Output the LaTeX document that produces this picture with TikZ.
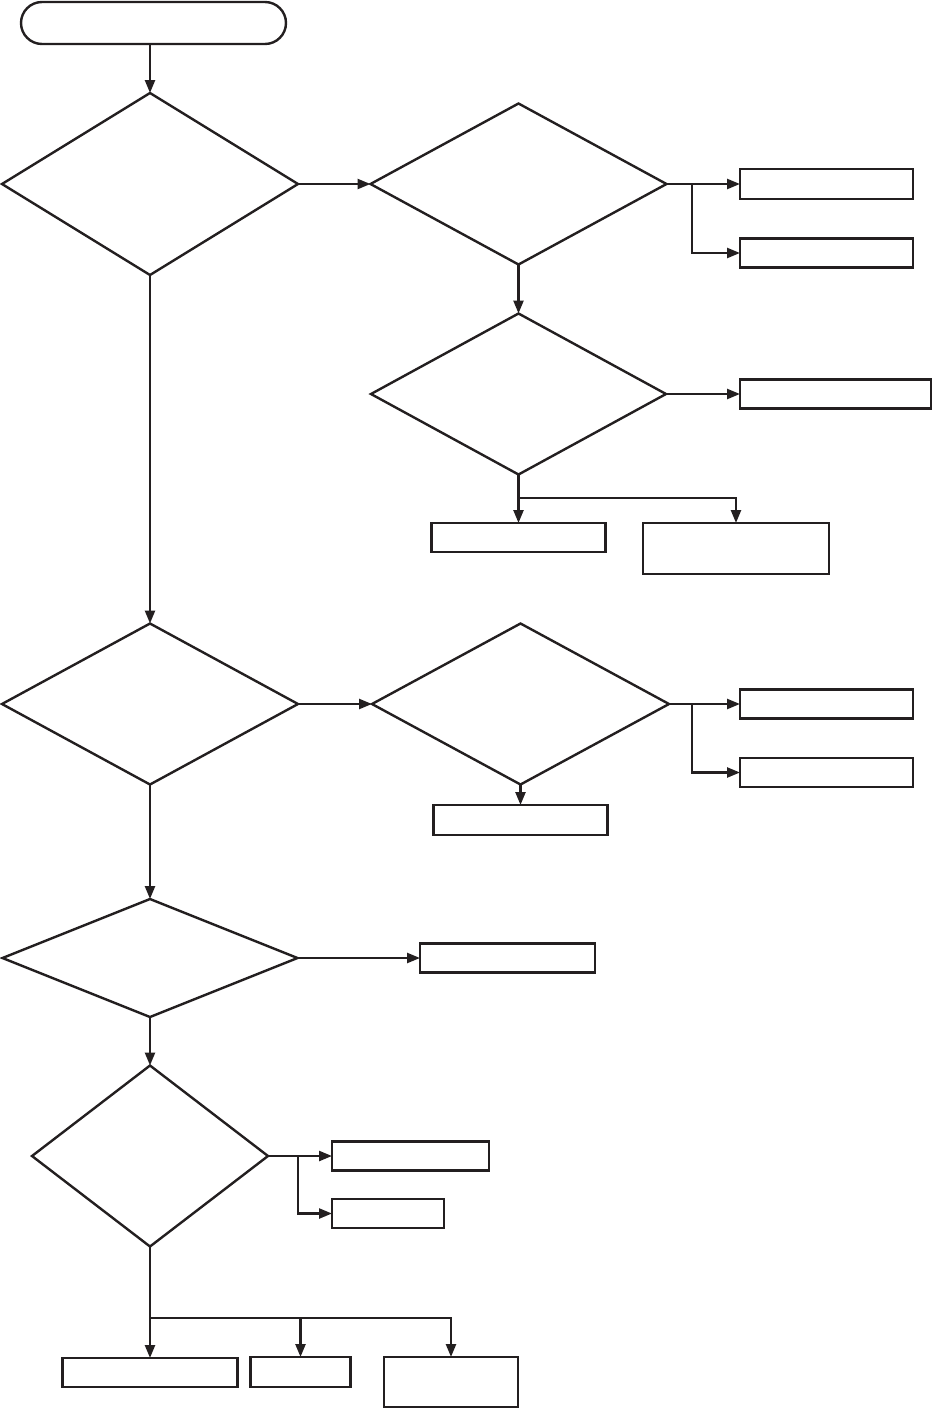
\documentclass[tikz,border=0pt]{standalone}
\usetikzlibrary{shapes.geometric,arrows.meta}
\definecolor{ink}{HTML}{231F20}
\begin{document}
\begin{tikzpicture}[x=1pt,y=-1pt,
  dia/.style={shape=diamond,draw=ink,line width=2.4pt,inner sep=0pt,outer sep=0pt,aspect=1},
  box/.style={shape=rectangle,draw=ink,line width=2.4pt,inner sep=0pt,outer sep=0pt},
  conn/.style={draw=ink,line width=2.4pt},
  arr/.style={conn,-{Triangle[length=13pt,width=10pt]}}]
\useasboundingbox (0,0) rectangle (933,1408);
\node[box,rounded corners=21pt,minimum width=265,minimum height=42] (t) at (153.5,23) {};
\node[dia,minimum width=296,minimum height=182] (d1) at (150,184) {};
\node[dia,minimum width=296,minimum height=161] (d2) at (518.5,184) {};
\node[dia,minimum width=295,minimum height=161] (d3) at (518.5,394) {};
\node[dia,minimum width=296,minimum height=161] (d4) at (150,704) {};
\node[dia,minimum width=297,minimum height=161] (d5) at (520.5,704) {};
\node[dia,minimum width=295,minimum height=118] (d6) at (150,958) {};
\node[dia,minimum width=236,minimum height=181] (d7) at (150,1156) {};
\node[box,minimum width=173,minimum height=30] (r1) at (826.5,184) {};
\node[box,minimum width=173,minimum height=29] (r2) at (826.5,253) {};
\node[box,minimum width=191,minimum height=29] (r3) at (835.5,394) {};
\node[box,minimum width=174,minimum height=29] (r4) at (518.5,537.5) {};
\node[box,minimum width=186,minimum height=51] (r5) at (736,548.5) {};
\node[box,minimum width=173,minimum height=29] (r6) at (826.5,704) {};
\node[box,minimum width=173,minimum height=29] (r7) at (826.5,772.5) {};
\node[box,minimum width=174,minimum height=30] (r8) at (520.5,820) {};
\node[box,minimum width=175,minimum height=29] (r9) at (507.5,958) {};
\node[box,minimum width=157,minimum height=29] (r10) at (410.5,1156) {};
\node[box,minimum width=112,minimum height=29] (r11) at (388,1213.5) {};
\node[box,minimum width=175,minimum height=29] (r12) at (150,1372.5) {};
\node[box,minimum width=100,minimum height=30] (r13) at (300.5,1372) {};
\node[box,minimum width=134,minimum height=50] (r14) at (451,1382) {};
\coordinate (b1) at (692,184);
\coordinate (b2) at (692,704);
\coordinate (b3) at (298,1156);
\coordinate (s1) at (518.5,498);
\coordinate (s2) at (150,1318);
\draw[arr] (t.south -| d1.north) -- (d1.north);
\draw[arr] (d1.east) -- (d2.west);
\draw[arr] (d2.east) -- (r1.west);
\draw[arr] (b1) |- (r2.west);
\draw[arr] (d2.south) -- (d3.north);
\draw[arr] (d3.east) -- (r3.west);
\draw[conn] (d3.south) -- (s1);
\draw[arr] (s1) -- (r4.north);
\draw[arr] (s1) -| (r5.north);
\draw[arr] (d1.south) -- (d4.north);
\draw[arr] (d4.east) -- (d5.west);
\draw[arr] (d5.east) -- (r6.west);
\draw[arr] (b2) |- (r7.west);
\draw[arr] (d5.south) -- (r8.north);
\draw[arr] (d4.south) -- (d6.north);
\draw[arr] (d6.east) -- (r9.west);
\draw[arr] (d6.south) -- (d7.north);
\draw[arr] (d7.east) -- (r10.west);
\draw[arr] (b3) |- (r11.west);
\draw[conn] (d7.south) -- (s2);
\draw[arr] (s2) -- (r12.north);
\draw[arr] (s2) -| (r13.north);
\draw[arr] (s2) -| (r14.north);
\end{tikzpicture}
\end{document}
